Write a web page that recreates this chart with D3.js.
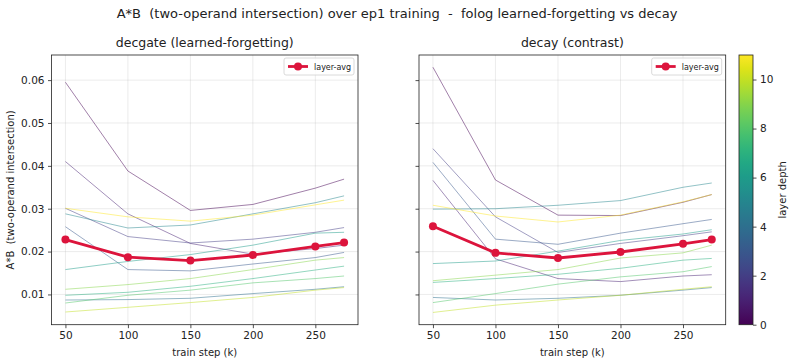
<!DOCTYPE html>
<html>
<head>
<meta charset="utf-8">
<script src="https://cdn.jsdelivr.net/npm/d3@7"></script>
<style>
	body { margin: 0; background: white; }
	text { font-family: "DejaVu Sans", sans-serif; fill: #222; white-space: pre; }
</style>
</head>
<body>
<script>
const steps = [50, 100, 150, 200, 250, 273];

// per-layer values, index = layer depth
const decgateLayers = [
	[0.0595, 0.0388, 0.0296, 0.0310, 0.0348, 0.0369],
	[0.0410, 0.0288, 0.0219, 0.0194, 0.0207, 0.0215],
	[0.0301, 0.0235, 0.0220, 0.0229, 0.0245, 0.0256],
	[0.0258, 0.0158, 0.0155, 0.0171, 0.0186, 0.0198],
	[0.0087, 0.0088, 0.0091, 0.0102, 0.0112, 0.0118],
	[0.0288, 0.0255, 0.0262, 0.0288, 0.0314, 0.0330],
	[0.0158, 0.0177, 0.0193, 0.0215, 0.0243, 0.0245],
	[0.0098, 0.0105, 0.0119, 0.0137, 0.0157, 0.0166],
	[0.0080, 0.0098, 0.0110, 0.0127, 0.0137, 0.0143],
	[0.0112, 0.0123, 0.0137, 0.0158, 0.0180, 0.0186],
	[0.0059, 0.0070, 0.0081, 0.0093, 0.0110, 0.0116],
	[0.0301, 0.0281, 0.0271, 0.0285, 0.0309, 0.0320]
];
const decgateAvg = [0.0228, 0.0187, 0.0179, 0.0192, 0.0212, 0.0221];

const decayLayers = [
	[0.0630, 0.0367, 0.0285, 0.0284, 0.0315, 0.0333],
	[0.0366, 0.0183, 0.0137, 0.0130, 0.0143, 0.0146],
	[0.0440, 0.0281, 0.0198, 0.0219, 0.0237, 0.0246],
	[0.0408, 0.0229, 0.0217, 0.0243, 0.0265, 0.0275],
	[0.0093, 0.0087, 0.0091, 0.0098, 0.0110, 0.0116],
	[0.0299, 0.0300, 0.0308, 0.0319, 0.0350, 0.0360],
	[0.0172, 0.0178, 0.0201, 0.0226, 0.0241, 0.0251],
	[0.0128, 0.0137, 0.0147, 0.0161, 0.0180, 0.0184],
	[0.0081, 0.0102, 0.0124, 0.0141, 0.0153, 0.0165],
	[0.0132, 0.0145, 0.0158, 0.0185, 0.0197, 0.0215],
	[0.0058, 0.0075, 0.0087, 0.0098, 0.0112, 0.0118],
	[0.0308, 0.0283, 0.0269, 0.0285, 0.0316, 0.0333]
];
const decayAvg = [0.0259, 0.0197, 0.0185, 0.0199, 0.0218, 0.0228];

const xTicks = [50, 100, 150, 200, 250];
const yTicks = [0.01, 0.02, 0.03, 0.04, 0.05, 0.06];
const depthTicks = [0, 2, 4, 6, 8, 10];
const maxDepth = 11;

const panels = [
	{ title: "decgate (learned-forgetting)", layers: decgateLayers, avg: decgateAvg, x0: 51.5, x1: 358 },
	{ title: "decay (contrast)", layers: decayLayers, avg: decayAvg, x0: 419, x1: 725.7 }
];

const width = 794, height = 364;
const plotTop = 55, plotBottom = 324.7;
const avgColor = "#dc143c";

const svg = d3.select("body").append("svg")
	.attr("width", width)
	.attr("height", height);

// shared y range with matplotlib-style 5% margins
const allVals = panels.flatMap(p => p.layers.flat().concat(p.avg));
const [yMin, yMax] = d3.extent(allVals);
const yPad = (yMax - yMin) * 0.05;
const y = d3.scaleLinear().domain([yMin - yPad, yMax + yPad]).range([plotBottom, plotTop]);

const xPad = (d3.max(steps) - d3.min(steps)) * 0.05;
const color = d3.scaleSequential(d3.interpolateViridis).domain([0, maxDepth]);

svg.append("text")
	.attr("x", width / 2)
	.attr("y", 18)
	.attr("text-anchor", "middle")
	.attr("font-size", 13)
	.text("A*B  (two-operand intersection) over ep1 training  -  folog learned-forgetting vs decay");

panels.forEach((p, pi) => {
	const x = d3.scaleLinear()
		.domain([d3.min(steps) - xPad, d3.max(steps) + xPad])
		.range([p.x0, p.x1]);

	const g = svg.append("g");

	// grid
	g.append("g").selectAll("line").data(xTicks).join("line")
		.attr("x1", d => x(d)).attr("x2", d => x(d))
		.attr("y1", plotTop).attr("y2", plotBottom)
		.attr("stroke", "#b0b0b0").attr("stroke-opacity", 0.3).attr("stroke-width", 0.8);
	g.append("g").selectAll("line").data(yTicks).join("line")
		.attr("x1", p.x0).attr("x2", p.x1)
		.attr("y1", d => y(d)).attr("y2", d => y(d))
		.attr("stroke", "#b0b0b0").attr("stroke-opacity", 0.3).attr("stroke-width", 0.8);

	const line = d3.line()
		.x((d, i) => x(steps[i]))
		.y(d => y(d));

	g.append("g").selectAll("path").data(p.layers).join("path")
		.attr("d", line)
		.attr("fill", "none")
		.attr("stroke", (d, i) => color(i))
		.attr("stroke-opacity", 0.5)
		.attr("stroke-width", 1);

	g.append("path")
		.attr("d", line(p.avg))
		.attr("fill", "none")
		.attr("stroke", avgColor)
		.attr("stroke-width", 2.8);

	g.append("g").selectAll("circle").data(p.avg).join("circle")
		.attr("cx", (d, i) => x(steps[i]))
		.attr("cy", d => y(d))
		.attr("r", 4)
		.attr("fill", avgColor);

	// axes
	const xAxis = g.append("g")
		.attr("transform", `translate(0,${plotBottom})`)
		.call(d3.axisBottom(x).tickValues(xTicks).tickSize(3.5).tickPadding(3.5));
	const yAxis = g.append("g")
		.attr("transform", `translate(${p.x0},0)`)
		.call(d3.axisLeft(y).tickValues(yTicks).tickSize(3.5).tickPadding(3.5)
			.tickFormat(pi === 0 ? d3.format(".2f") : () => ""));
	[xAxis, yAxis].forEach(a => {
		a.select(".domain").remove();
		a.selectAll("line").attr("stroke", "#222").attr("stroke-width", 0.8);
		a.selectAll("text").attr("font-size", 10.5).attr("font-family", "DejaVu Sans").attr("fill", "#222");
	});

	g.append("rect")
		.attr("x", p.x0).attr("y", plotTop)
		.attr("width", p.x1 - p.x0).attr("height", plotBottom - plotTop)
		.attr("fill", "none").attr("stroke", "#222").attr("stroke-width", 0.8);

	g.append("text")
		.attr("x", (p.x0 + p.x1) / 2)
		.attr("y", 47)
		.attr("text-anchor", "middle")
		.attr("font-size", 12.5)
		.text(p.title);

	g.append("text")
		.attr("x", (p.x0 + p.x1) / 2)
		.attr("y", 356)
		.attr("text-anchor", "middle")
		.attr("font-size", 10)
		.text("train step (k)");

	// legend
	const lx = p.x1 - 74, ly = plotTop + 3;
	const leg = g.append("g").attr("transform", `translate(${lx},${ly})`);
	leg.append("rect")
		.attr("width", 70).attr("height", 17).attr("rx", 2)
		.attr("fill", "white").attr("fill-opacity", 0.8)
		.attr("stroke", "#d0d0d0").attr("stroke-width", 0.8);
	leg.append("line")
		.attr("x1", 4).attr("x2", 24).attr("y1", 8.5).attr("y2", 8.5)
		.attr("stroke", avgColor).attr("stroke-width", 2.8);
	leg.append("circle")
		.attr("cx", 14).attr("cy", 8.5).attr("r", 4).attr("fill", avgColor);
	leg.append("text")
		.attr("x", 30).attr("y", 11.5)
		.attr("font-size", 8)
		.text("layer-avg");
});

svg.append("text")
	.attr("transform", `translate(14,${(plotTop + plotBottom) / 2}) rotate(-90)`)
	.attr("text-anchor", "middle")
	.attr("font-size", 10)
	.text("A*B  (two-operand intersection)");

// colorbar
const cbX0 = 739, cbX1 = 753;
const cbY = d3.scaleLinear().domain([0, maxDepth]).range([plotBottom, plotTop]);
const defs = svg.append("defs");
const grad = defs.append("linearGradient")
	.attr("id", "viridisGrad")
	.attr("x1", 0).attr("x2", 0).attr("y1", 1).attr("y2", 0);
d3.range(0, 1.0001, 0.05).forEach(t => {
	grad.append("stop").attr("offset", t).attr("stop-color", d3.interpolateViridis(t));
});
svg.append("rect")
	.attr("x", cbX0).attr("y", plotTop)
	.attr("width", cbX1 - cbX0).attr("height", plotBottom - plotTop)
	.attr("fill", "url(#viridisGrad)")
	.attr("stroke", "#222").attr("stroke-width", 0.8);

const cbAxis = svg.append("g")
	.attr("transform", `translate(${cbX1},0)`)
	.call(d3.axisRight(cbY).tickValues(depthTicks).tickSize(3.5).tickPadding(3.5));
cbAxis.select(".domain").remove();
cbAxis.selectAll("line").attr("stroke", "#222").attr("stroke-width", 0.8);
cbAxis.selectAll("text").attr("font-size", 10.5).attr("font-family", "DejaVu Sans").attr("fill", "#222");

svg.append("text")
	.attr("transform", `translate(786,${(plotTop + plotBottom) / 2}) rotate(-90)`)
	.attr("text-anchor", "middle")
	.attr("font-size", 10)
	.text("layer depth");
</script>
</body>
</html>
